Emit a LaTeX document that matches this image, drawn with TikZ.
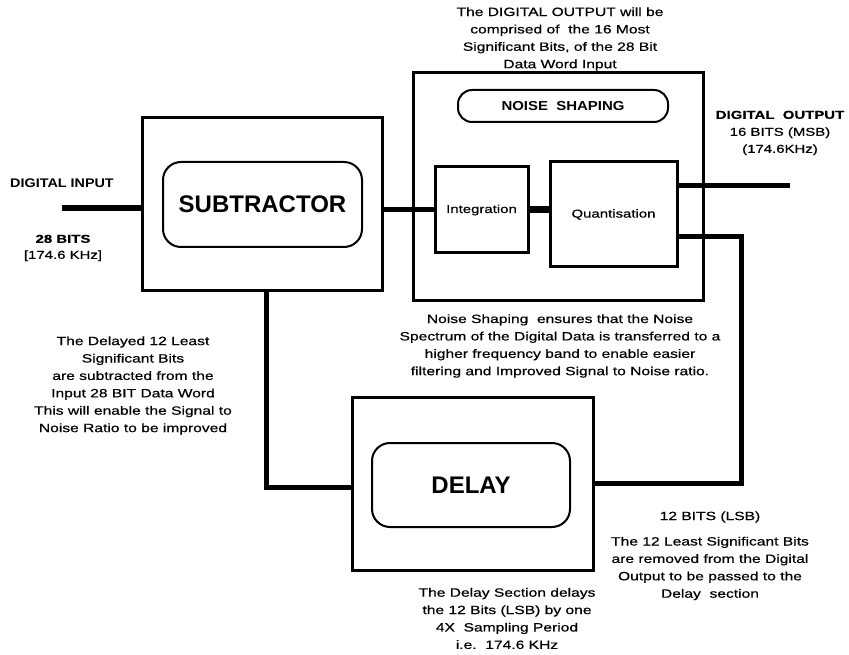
\documentclass[tikz,border=0pt]{standalone}
\usepackage{fontspec}
\setmainfont{Liberation Sans}
\newfontfamily\wf{Liberation Sans}[FakeStretch=1.3,FakeBold=0.6]
\newfontfamily\wbf{Liberation Sans Bold}[FakeStretch=1.15]
\begin{document}
\begin{tikzpicture}[x=1pt,y=-1pt,
  box/.style={draw,line width=3pt,inner sep=0pt},
  rbox/.style={draw,line width=2pt,rounded corners=18pt,inner sep=0pt},
  conn/.style={line width=5pt},
  body/.style={align=center,font=\wf\fontsize{12}{17.4}\selectfont,inner sep=0pt},
  lbl/.style={align=center,font=\wbf\fontsize{12}{17}\selectfont,inner sep=0pt},
  title/.style={font=\bfseries\fontsize{24}{28}\selectfont},
]
\useasboundingbox (0,0) rectangle (849,655);

% boxes
\node[box,minimum width=240pt,minimum height=172pt] (sub) at (262,204) {};
\node[rbox,minimum width=199pt,minimum height=85pt,title] (subin) at (262.5,204.5) {SUBTRACTOR};
\node[box,minimum width=290pt,minimum height=227pt] (ns) at (558,186.5) {};
\node[rbox,rounded corners=14pt,minimum width=210pt,minimum height=32pt,font=\wbf\fontsize{13}{15}\selectfont] (nslbl) at (563,106) {NOISE\ \ SHAPING};
\node[box,minimum width=93pt,minimum height=86pt,font=\wf\fontsize{11.5}{14}\selectfont] (integ) at (481.5,210) {Integration};
\node[box,minimum width=127pt,minimum height=105pt,font=\wf\fontsize{11.5}{14}\selectfont] (quant) at (613.5,214.5) {Quantisation};
\node[box,minimum width=241pt,minimum height=173pt] (delay) at (472.5,483.5) {};
\node[rbox,minimum width=198pt,minimum height=84pt,title] (delin) at (471,485) {DELAY};

% free ends and corners
\coordinate (inL) at (62,208);
\coordinate (outR) at (790,186);
\coordinate (c1) at (741,237);
\coordinate (c2) at (741,483);
\coordinate (c3) at (266,487);

% connectors
\draw[conn,line width=6pt] (inL) -- (inL -| sub.west);
\draw[conn] (sub.east |- integ.west) -- (integ.west);
\draw[conn,line width=7pt] (integ.east) -- (integ.east -| quant.west);
\draw[conn] (quant.east |- outR) -- (outR);
\draw[conn,line join=miter] (quant.east |- c1) -- (c1) -- (c2) -- (c2 -| delay.east);
\draw[conn,line join=miter] (c3 |- sub.south) -- (c3) -- (c3 -| delay.west);

% texts
\node[body] (ttop) at (560,39) {The DIGITAL OUTPUT will be\\comprised of\ \ the 16 Most\\Significant Bits, of the 28 Bit\\Data Word Input};
\node[lbl,font=\wbf\fontsize{12.5}{15}\selectfont] (tin) at (62,183) {DIGITAL INPUT};
\node[lbl,font=\wf\fontsize{11.5}{16}\selectfont] (tinb) at (63,248) {\textbf{28 BITS}\\{}[174.6 KHz]};
\node[lbl,font=\wf\fontsize{11.5}{17}\selectfont] (tout) at (780,133) {\textbf{DIGITAL\ \ OUTPUT}\\16 BITS (MSB)\\(174.6KHz)};
\node[body] (tleft) at (133,385.5) {The Delayed 12 Least\\Significant Bits\\are subtracted from the\\Input 28 BIT Data Word\\This will enable the Signal to\\Noise Ratio to be improved};
\node[body] (tns) at (560,346) {Noise Shaping\ \ ensures that the Noise\\Spectrum of the Digital Data is transferred to a\\higher frequency band to enable easier\\filtering and Improved Signal to Noise ratio.};
\node[lbl,font=\wf\fontsize{12}{15}\selectfont] (tlsb) at (710,517) {12 BITS (LSB)};
\node[body] (tlsbb) at (710,568.5) {The 12 Least Significant Bits\\are removed from the Digital\\Output to be passed to the\\Delay\ \ section};
\node[body] (tdel) at (507,618.5) {The Delay Section delays\\the 12 Bits (LSB) by one\\4X\ \ Sampling Period\\i.e.\ \ 174.6 KHz};
\end{tikzpicture}
\end{document}
